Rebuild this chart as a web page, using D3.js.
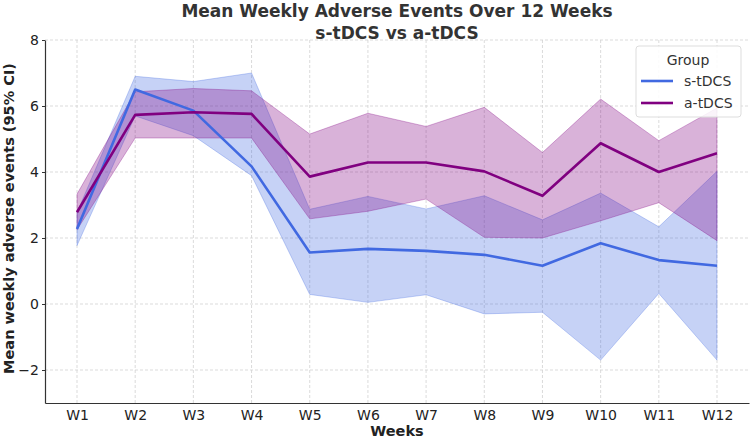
<!DOCTYPE html>
<html>
<head>
<meta charset="utf-8">
<script src="https://cdn.jsdelivr.net/npm/d3@7"></script>
<style>
  body { margin: 0; background: #fff; }
  text { font-family: "DejaVu Sans", sans-serif; }
</style>
</head>
<body>
<div id="chart"></div>
<script>
const weeks = ["W1", "W2", "W3", "W4", "W5", "W6", "W7", "W8", "W9", "W10", "W11", "W12"];

// s-tDCS
const sMean = [2.27, 6.50, 5.86, 4.17, 1.56, 1.67, 1.61, 1.49, 1.16, 1.84, 1.33, 1.16];
const sLow = [1.77, 5.70, 5.10, 3.89, 0.29, 0.05, 0.28, -0.30, -0.25, -1.70, 0.32, -1.70];
const sHigh = [2.77, 6.90, 6.74, 7.00, 2.87, 3.26, 2.88, 3.28, 2.55, 3.36, 2.34, 4.02];

// a-tDCS
const aMean = [2.78, 5.73, 5.81, 5.76, 3.86, 4.29, 4.29, 4.02, 3.28, 4.87, 4.00, 4.57];
const aLow = [2.25, 5.03, 5.03, 5.03, 2.58, 2.81, 3.18, 2.02, 2.00, 2.52, 3.07, 1.92];
const aHigh = [3.33, 6.43, 6.53, 6.46, 5.15, 5.78, 5.38, 5.96, 4.59, 6.21, 4.95, 5.94];

const yTicks = [-2, 0, 2, 4, 6, 8];

const W = 750, H = 438;
const margin = { top: 40, right: 1, bottom: 35, left: 45 };

const svg = d3.select("#chart").append("svg")
  .attr("width", W)
  .attr("height", H);

const x = d3.scaleLinear().domain([0.45, 12.55]).range([margin.left, W - margin.right]);
const y = d3.scaleLinear().domain([-3, 8]).range([H - margin.bottom, margin.top]);

// grid
const grid = svg.append("g");
grid.selectAll(".vgrid")
  .data(weeks)
  .join("line")
  .attr("x1", (d, i) => x(i + 1))
  .attr("x2", (d, i) => x(i + 1))
  .attr("y1", y(8))
  .attr("y2", y(-3))
  .attr("stroke", "#d2d2d2")
  .attr("stroke-width", 0.8)
  .attr("stroke-dasharray", "3,2");
grid.selectAll(".hgrid")
  .data(yTicks)
  .join("line")
  .attr("x1", x(0.45))
  .attr("x2", x(12.55))
  .attr("y1", d => y(d))
  .attr("y2", d => y(d))
  .attr("stroke", "#d2d2d2")
  .attr("stroke-width", 0.8)
  .attr("stroke-dasharray", "3,2");

const groups = [
  { name: "s-tDCS", color: "#4169e1", mean: sMean, low: sLow, high: sHigh },
  { name: "a-tDCS", color: "#800080", mean: aMean, low: aLow, high: aHigh }
];

const area = d3.area()
  .x(d => x(d.i + 1))
  .y0(d => y(d.lo))
  .y1(d => y(d.hi));

const line = d3.line()
  .x(d => x(d.i + 1))
  .y(d => y(d.v));

// bands
groups.forEach(g => {
  const pts = weeks.map((w, i) => ({ i: i, lo: g.low[i], hi: g.high[i] }));
  svg.append("path")
    .datum(pts)
    .attr("d", area)
    .attr("fill", g.color)
    .attr("fill-opacity", 0.3)
    .attr("stroke", g.color)
    .attr("stroke-opacity", 0.3)
    .attr("stroke-width", 1);
});

// mean lines
groups.forEach(g => {
  const pts = weeks.map((w, i) => ({ i: i, v: g.mean[i] }));
  svg.append("path")
    .datum(pts)
    .attr("d", line)
    .attr("fill", "none")
    .attr("stroke", g.color)
    .attr("stroke-width", 2.6)
    .attr("stroke-linejoin", "round");
});

// axes
const xAxis = svg.append("g")
  .attr("transform", `translate(0,${y(-3)})`)
  .call(d3.axisBottom(x)
    .tickValues(d3.range(1, 13))
    .tickFormat(d => weeks[d - 1])
    .tickSize(0)
    .tickPadding(6)
    .tickSizeOuter(0));
const yAxis = svg.append("g")
  .attr("transform", `translate(${x(0.45)},0)`)
  .call(d3.axisLeft(y)
    .tickValues(yTicks)
    .tickFormat(d => d < 0 ? "\u2212" + Math.abs(d) : d)
    .tickSize(3)
    .tickSizeOuter(0));

[xAxis, yAxis].forEach(a => {
  a.select(".domain").attr("stroke", "#333").attr("stroke-width", 1.2);
  a.selectAll(".tick line").attr("stroke", "#333");
  a.selectAll(".tick text")
    .attr("fill", "#222")
    .style("font-size", "14px")
    .style("font-family", "DejaVu Sans");
});
xAxis.selectAll(".tick text").attr("dy", "0.8em");

// labels
svg.append("text")
  .attr("x", (x(0.45) + x(12.55)) / 2)
  .attr("y", 436)
  .attr("text-anchor", "middle")
  .style("font-size", "14.5px")
  .style("font-weight", "bold")
  .attr("fill", "#222")
  .text("Weeks");

svg.append("text")
  .attr("transform", `translate(14,${(y(8) + y(-3)) / 2 - 3}) rotate(-90)`)
  .attr("text-anchor", "middle")
  .style("font-size", "14.5px")
  .style("font-weight", "bold")
  .attr("fill", "#222")
  .text("Mean weekly adverse events (95% CI)");

const title = svg.append("text")
  .attr("text-anchor", "middle")
  .style("font-size", "17px")
  .style("font-weight", "bold")
  .attr("fill", "#333");
title.append("tspan")
  .attr("x", (x(0.45) + x(12.55)) / 2)
  .attr("y", 17)
  .text("Mean Weekly Adverse Events Over 12 Weeks");
title.append("tspan")
  .attr("x", (x(0.45) + x(12.55)) / 2)
  .attr("y", 39)
  .text("s-tDCS vs a-tDCS");

// legend
const lg = svg.append("g").attr("transform", "translate(636,46)");
lg.append("rect")
  .attr("width", 105)
  .attr("height", 71)
  .attr("rx", 3)
  .attr("fill", "#fff")
  .attr("fill-opacity", 0.85)
  .attr("stroke", "#ddd");
lg.append("text")
  .attr("x", 52)
  .attr("y", 19)
  .attr("text-anchor", "middle")
  .style("font-size", "14px")
  .attr("fill", "#333")
  .text("Group");
groups.forEach((g, i) => {
  const yy = 35 + i * 22;
  lg.append("line")
    .attr("x1", 5).attr("x2", 37)
    .attr("y1", yy).attr("y2", yy)
    .attr("stroke", g.color)
    .attr("stroke-width", 2.6);
  lg.append("text")
    .attr("x", 48)
    .attr("y", yy)
    .attr("dy", "0.35em")
    .style("font-size", "14px")
    .attr("fill", "#333")
    .text(g.name);
});
</script>
</body>
</html>
